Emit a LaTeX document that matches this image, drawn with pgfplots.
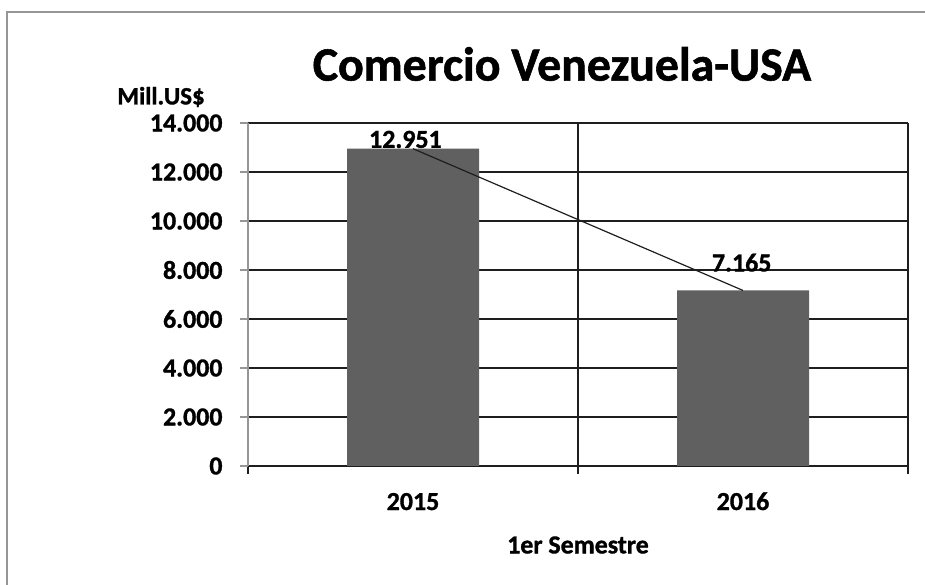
\documentclass[border=0pt]{standalone}
\usepackage{pgfplots}
\pgfplotsset{compat=1.18}
\usepackage{fontspec}
\setmainfont{Carlito}[BoldFeatures={FakeBold=1.2}]
\definecolor{barfill}{RGB}{96,96,96}
\definecolor{gridc}{RGB}{30,30,30}
\definecolor{frame}{RGB}{150,150,150}
\begin{document}
\begin{tikzpicture}
\path[use as bounding box] (0bp,0bp) rectangle (925bp,585bp);
\draw[frame, line width=2.2bp] (7bp,0bp) -- (7bp,573bp) -- (925bp,573bp);
\begin{axis}[
  at={(248bp,119bp)}, anchor=south west, scale only axis,
  width=660bp, height=343bp,
  xmin=-0.5, xmax=1.5, ymin=0, ymax=14000,
  axis x line*=bottom, axis y line*=left,
  xtick={-0.5,0.5,1.5}, xticklabels={},
  xmajorgrids, ymajorgrids,
  major tick length=8bp, tick align=outside,
  extra x ticks={0,1}, extra x tick labels={2015,2016},
  extra x tick style={major tick length=0pt, grid=none},
  ytick={0,2000,4000,6000,8000,10000,12000,14000},
  scaled y ticks=false,
  grid style={gridc, line width=1.3bp},
  x axis line style={gridc, line width=1.6bp},
  y axis line style={frame, line width=1.3bp},
  ytick style={frame, line width=1.3bp},
  xtick style={gridc, line width=1.6bp},
  yticklabel style={font=\fontsize{26}{28}\selectfont\bfseries, xshift=-14bp},
  xticklabel style={font=\fontsize{26}{28}\selectfont\bfseries, anchor=base, yshift=-44bp},
  /pgf/number format/1000 sep={.},
  /pgf/number format/assume math mode=true,
  clip=false,
]
\addplot[ybar, bar width=0.4, fill=barfill, draw=none] coordinates {(0,12951) (1,7165)};
\addplot[gridc, line width=1.2bp, no marks] coordinates {(0,12951) (1,7165)};
\node[font=\fontsize{26}{28}\selectfont\bfseries] at (axis cs:-0.023,13330) {12.951};
\node[font=\fontsize{26}{28}\selectfont\bfseries] at (axis cs:0.996,8300) {7.165};
\end{axis}
\node[font=\fontsize{48}{52}\selectfont\bfseries] at (562bp,521bp) {Comercio Venezuela-USA};
\node[font=\fontsize{25}{28}\selectfont\bfseries] at (161bp,488bp) {Mill.US\$};
\node[font=\fontsize{26}{28}\selectfont\bfseries] at (578bp,40bp) {1er Semestre};
\end{tikzpicture}
\end{document}
